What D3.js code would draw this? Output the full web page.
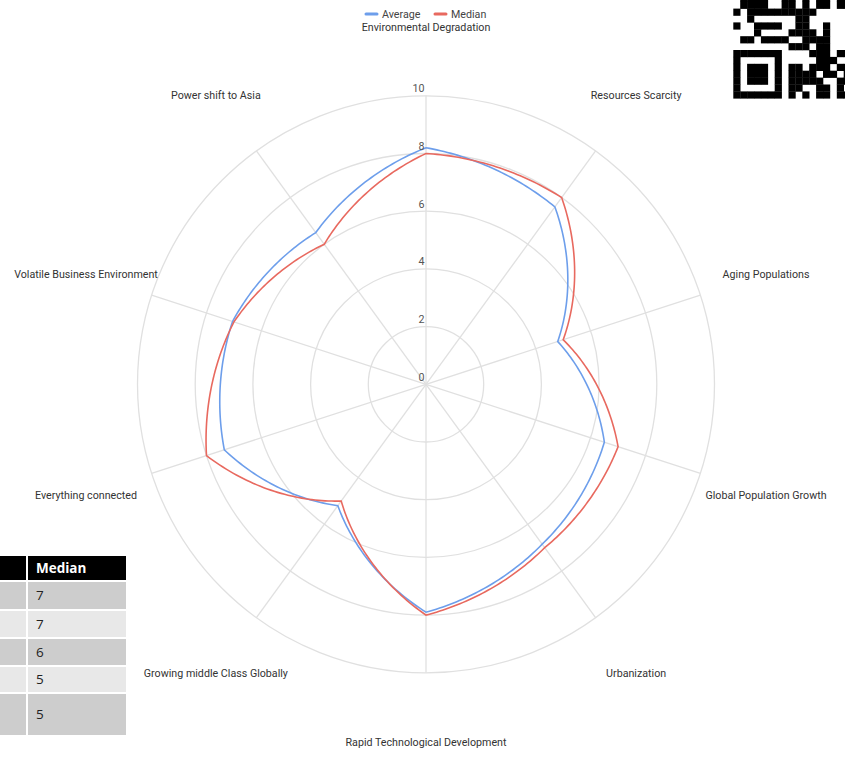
<!DOCTYPE html>
<html>
<head>
<meta charset="utf-8">
<script src="https://cdn.jsdelivr.net/npm/d3@7"></script>
<style>
  html, body { margin: 0; padding: 0; background: #fff; }
  svg { display: block; }
</style>
</head>
<body>
<svg id="chart" width="845" height="757"></svg>
<script>
// ---------------- DATA ----------------
const categories = [
  "Environmental Degradation", "Resources Scarcity", "Aging Populations",
  "Global Population Growth", "Urbanization", "Rapid Technological Development",
  "Growing middle Class Globally", "Everything connected",
  "Volatile Business Environment", "Power shift to Asia"
];
const averageValues = [8.2, 7.6, 4.8, 6.5, 6.85, 7.9, 5.2, 7.35, 7.05, 6.5];
const medianValues  = [8, 8, 5, 7, 7, 8, 5, 8, 7, 6];
const seriesNames = ["Average", "Median"];
const radialTicks = [0, 2, 4, 6, 8, 10];
const tableHeader = "Median";
const tableMedian = ["7", "7", "6", "5", "5"];

// ---------------- LAYOUT ----------------
const svg = d3.select("#chart");
const cx = 426, cy = 384.3;
const R = 288.5;
const colors = { Average: "#6d9eeb", Median: "#e8695f" };
const FONT = "Roboto, sans-serif";
const FS = 10.7;

const r = d3.scaleLinear().domain([0, 10]).range([0, R]);
const angleStep = 2 * Math.PI / categories.length;
const ang = i => i * angleStep;

const g = svg.append("g").attr("transform", `translate(${cx},${cy})`);

// grid circles
g.selectAll("circle.grid").data(radialTicks.filter(t => t > 0))
  .join("circle").attr("class", "grid")
  .attr("r", d => r(d)).attr("fill", "none")
  .attr("stroke", "#e0e0e0").attr("stroke-width", 1.3);

// spokes
g.selectAll("line.spoke").data(categories)
  .join("line").attr("class", "spoke")
  .attr("x1", 0).attr("y1", 0)
  .attr("x2", (d, i) => r(10) * Math.sin(ang(i)))
  .attr("y2", (d, i) => -r(10) * Math.cos(ang(i)))
  .attr("stroke", "#e0e0e0").attr("stroke-width", 1.3);

// custom curve: interpolation mostly in polar coordinates (closed)
const POLAR_MIX = 0.8;
function PolarLinearClosed(context) { this._context = context; }
PolarLinearClosed.prototype = {
  areaStart() {}, areaEnd() {},
  lineStart() { this._pts = []; },
  point(x, y) { this._pts.push([+x, +y]); },
  lineEnd() {
    const p = this._pts, n = p.length, ctx = this._context;
    if (!n) return;
    const pol = p.map(([x, y]) => [Math.atan2(x, -y), Math.hypot(x, y)]);
    ctx.moveTo(p[0][0], p[0][1]);
    for (let i = 0; i < n; i++) {
      const j = (i + 1) % n;
      const a = pol[i], b = pol[j];
      let da = b[0] - a[0];
      while (da > Math.PI) da -= 2 * Math.PI;
      while (da < -Math.PI) da += 2 * Math.PI;
      const steps = 40;
      for (let s = 1; s <= steps; s++) {
        const t = s / steps;
        const th = a[0] + da * t, rr = a[1] + (b[1] - a[1]) * t;
        const px = rr * Math.sin(th), py = -rr * Math.cos(th);
        const sx = p[i][0] + (p[j][0] - p[i][0]) * t;
        const sy = p[i][1] + (p[j][1] - p[i][1]) * t;
        ctx.lineTo(sx + (px - sx) * POLAR_MIX, sy + (py - sy) * POLAR_MIX);
      }
    }
    ctx.closePath();
  }
};
const polarCurve = ctx => new PolarLinearClosed(ctx);

const line = d3.lineRadial()
  .angle((d, i) => ang(i))
  .radius(d => r(d))
  .curve(polarCurve);

const series = [
  { name: seriesNames[0], values: averageValues },
  { name: seriesNames[1], values: medianValues }
];
g.selectAll("path.series").data(series).join("path")
  .attr("class", "series")
  .attr("d", d => line(d.values))
  .attr("fill", "none")
  .attr("stroke", d => colors[d.name])
  .attr("stroke-width", 1.6)
  .attr("stroke-linejoin", "miter");

// tick labels
g.selectAll("text.tick").data(radialTicks).join("text")
  .attr("class", "tick")
  .attr("x", -1.5).attr("y", d => -r(d) - 3.5)
  .attr("text-anchor", "end")
  .attr("font-family", FONT).attr("font-size", FS)
  .attr("fill", "#555").text(d => d);

// category labels
const labelR = 357.5;
g.selectAll("text.cat").data(categories).join("text")
  .attr("class", "cat")
  .attr("x", (d, i) => labelR * Math.sin(ang(i)))
  .attr("y", (d, i) => -labelR * Math.cos(ang(i)))
  .attr("dy", "0.35em")
  .attr("text-anchor", "middle")
  .attr("font-family", FONT).attr("font-size", FS)
  .attr("fill", "#333").text(d => d);

// legend
const legend = svg.append("g");
const legendItems = [
  { name: seriesNames[0], sx: 366, tx: 382 },
  { name: seriesNames[1], sx: 435, tx: 451 }
];
legendItems.forEach(it => {
  legend.append("line")
    .attr("x1", it.sx).attr("x2", it.sx + 11)
    .attr("y1", 14).attr("y2", 14)
    .attr("stroke", colors[it.name]).attr("stroke-width", 3)
    .attr("stroke-linecap", "round");
  legend.append("text")
    .attr("x", it.tx).attr("y", 14).attr("dy", "0.35em")
    .attr("font-family", FONT).attr("font-size", FS)
    .attr("fill", "#444").text(it.name);
});

// partial table (bottom-left)
const tbl = svg.append("g");
tbl.append("rect").attr("x", -10).attr("y", 556).attr("width", 136).attr("height", 24).attr("fill", "#000");
tbl.append("rect").attr("x", 26).attr("y", 556).attr("width", 2).attr("height", 24).attr("fill", "#fff");
tbl.append("text").attr("x", 36).attr("y", 568).attr("dy", "0.36em")
  .attr("font-family", "'Open Sans', sans-serif").attr("font-weight", "bold")
  .attr("font-size", 13.5).attr("fill", "#fff").text(tableHeader);
const rowTops = [582, 611, 639, 667, 694];
const rowBottoms = [609, 637, 665, 692, 735];
tableMedian.forEach((v, i) => {
  const fill = i % 2 === 0 ? "#cdcdcd" : "#e8e8e8";
  tbl.append("rect").attr("x", -10).attr("y", rowTops[i]).attr("width", 36)
    .attr("height", rowBottoms[i] - rowTops[i]).attr("fill", fill);
  tbl.append("rect").attr("x", 28).attr("y", rowTops[i]).attr("width", 98)
    .attr("height", rowBottoms[i] - rowTops[i]).attr("fill", fill);
  tbl.append("text").attr("x", 36)
    .attr("y", (rowTops[i] + rowBottoms[i]) / 2).attr("dy", "0.36em")
    .attr("font-family", "'Open Sans', sans-serif").attr("font-size", 13.5)
    .attr("fill", "#222").text(v);
});

// QR code fragment (top-right, decorative)
const qrRows = [
  "01111001101011011",
  "01111001101011011",
  "10111111111100000",
  "00100000011000000",
  "10011110011001000",
  "00010000111101000",
  "01101111001111000",
  "00000000111011000",
  "11111110000111011",
  "10000010000011100",
  "10111010110111011",
  "10111010111101101",
  "10111010111110011",
  "10000010110011010",
  "11111110101011011"
];
const mod = 6.9, qx = 733.3, qy = 98.3 - qrRows.length * mod;
const qr = svg.append("g");
qrRows.forEach((row, ri) => {
  row.split("").forEach((c, ci) => {
    if (c === "1") qr.append("rect")
      .attr("x", qx + ci * mod).attr("y", qy + ri * mod)
      .attr("width", mod + 0.3).attr("height", mod + 0.3).attr("fill", "#000");
  });
});
</script>
</body>
</html>
